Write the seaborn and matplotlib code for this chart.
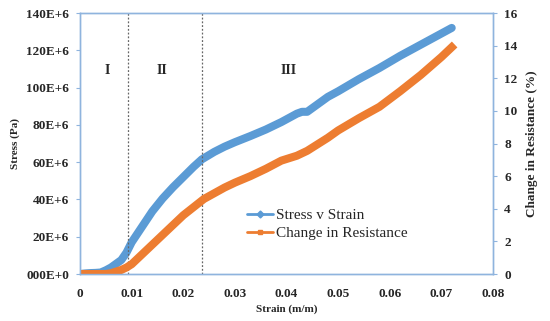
import numpy as np
import pandas as pd
import seaborn as sns
import matplotlib.pyplot as plt
from matplotlib.lines import Line2D

# stress v strain (stress in units of 1E6 Pa)
strain_s = [0, 0.001, 0.002, 0.003, 0.004, 0.005, 0.006, 0.007, 0.008, 0.009,
            0.010, 0.012, 0.014, 0.016, 0.018, 0.020, 0.022, 0.0236, 0.026, 0.028,
            0.030, 0.033, 0.036, 0.039, 0.042, 0.043, 0.044, 0.046, 0.048, 0.050,
            0.054, 0.058, 0.062, 0.066, 0.070, 0.072]
stress_mpa = [0, 0.3, 0.5, 0.6, 0.8, 2.0, 3.5, 5.5, 7.5, 11.5,
              17, 25.3, 33.6, 40.5, 46.5, 52, 57.5, 61.5, 65.5, 68.3,
              70.7, 74, 77.5, 81.5, 86, 87, 87, 91, 95, 98,
              104.5, 110.5, 117, 123, 129, 132]

# change in resistance (%), gap between the first points and the rest
strain_r = [0, 0.0005, 0.001, 0.0015, 0.002, 0.0025, 0.0035, 0.005, 0.006, 0.007,
            0.008, 0.009, 0.010, 0.012, 0.014, 0.016, 0.018, 0.020, 0.022, 0.024,
            0.026, 0.028, 0.030, 0.033, 0.036, 0.039, 0.042, 0.044, 0.046, 0.048,
            0.050, 0.054, 0.058, 0.062, 0.066, 0.070, 0.072]
resist = [0, 0, 0, 0, 0, 0, np.nan, 0, 0.05, 0.15,
          0.25, 0.4, 0.6, 1.2, 1.8, 2.4, 3.0, 3.6, 4.1, 4.6,
          4.95, 5.3, 5.6, 6.0, 6.45, 6.95, 7.25, 7.55, 7.95, 8.35,
          8.8, 9.55, 10.25, 11.2, 12.2, 13.3, 13.9]

region_lines = [0.0093, 0.0236]
region_names = ['I', 'II', 'III']
region_x = [0.0053, 0.0158, 0.0405]

x_ticks = [0, 0.01, 0.02, 0.03, 0.04, 0.05, 0.06, 0.07, 0.08]
x_labels = ['0', '0.01', '0.02', '0.03', '0.04', '0.05', '0.06', '0.07', '0.08']
y_ticks = [0, 20e6, 40e6, 60e6, 80e6, 100e6, 120e6, 140e6]
y_labels = ['000E+0', '20E+6', '40E+6', '60E+6', '80E+6', '100E+6', '120E+6', '140E+6']
y2_ticks = [0, 2, 4, 6, 8, 10, 12, 14, 16]

blue = '#5B9BD5'
orange = '#ED7D31'
frame = '#8FB4DE'

sns.set_style('white')
plt.rcParams['font.family'] = ['Liberation Serif', 'DejaVu Serif']

df_s = pd.DataFrame({'strain': strain_s, 'stress': np.array(stress_mpa) * 1e6})
df_r = pd.DataFrame({'strain': strain_r, 'resist': resist})

fig = plt.figure(figsize=(5.5, 3.21), dpi=100)
ax = fig.add_axes([0.1455, 0.1464, 0.7509, 0.8131])
ax2 = ax.twinx()

sns.lineplot(data=df_s, x='strain', y='stress', ax=ax, color=blue, lw=5.8,
             solid_capstyle='round', sort=False)
sns.lineplot(data=df_r, x='strain', y='resist', ax=ax2, color=orange, lw=5.8,
             solid_capstyle='projecting', sort=False)

for xv in region_lines:
    ax.axvline(xv, color='#666666', ls=(0, (1.5, 1.5)), lw=0.9)
for name, xv in zip(region_names, region_x):
    ax.text(xv, 109e6, name, ha='center', va='center', fontsize=10, fontweight='bold')

ax.set_xlim(0, 0.08)
ax.set_ylim(0, 140e6)
ax2.set_ylim(0, 16)
ax.set_xticks(x_ticks)
ax.set_xticklabels(x_labels)
ax.set_yticks(y_ticks)
ax.set_yticklabels(y_labels)
ax2.set_yticks(y2_ticks)

for a in (ax, ax2):
    for sp in a.spines.values():
        sp.set_color(frame)
        sp.set_linewidth(1.0)
    a.tick_params(length=3, color=frame, labelsize=9.5, pad=5)
    for lab in a.get_xticklabels() + a.get_yticklabels():
        lab.set_fontweight('bold')
ax.tick_params(axis='x', pad=7)

ax.set_xlabel('Strain (m/m)', fontsize=8, fontweight='bold', labelpad=3)
ax.set_ylabel('Stress (Pa)', fontsize=8, fontweight='bold', labelpad=4)
ax2.set_ylabel('Change in Resistance (%)', fontsize=9.5, fontweight='bold', labelpad=6)

handles = [Line2D([], [], color=blue, lw=2, marker='D', ms=3.5),
           Line2D([], [], color=orange, lw=2, marker='s', ms=3.5)]
ax2.legend(handles, ['Stress v Strain', 'Change in Resistance'], loc='center left',
           bbox_to_anchor=(0.37, 0.19), frameon=False, fontsize=11,
           handlelength=1.7, handletextpad=0.2, labelspacing=0.3)

fig.savefig('out.png', dpi=100)
